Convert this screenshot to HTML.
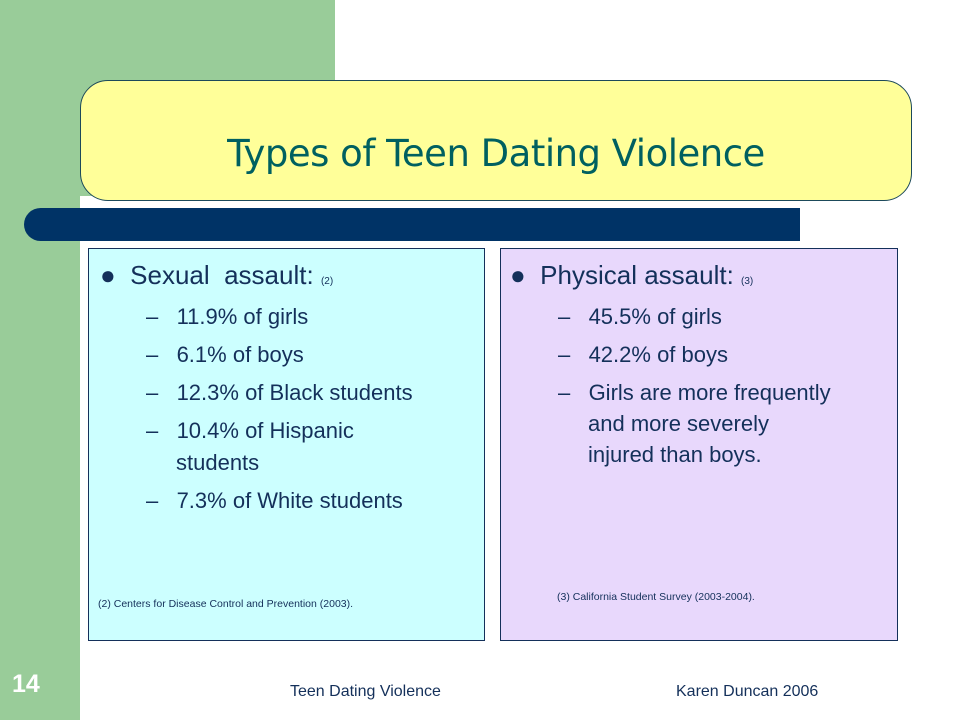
<!DOCTYPE html>
<html><head><meta charset="utf-8"><style>
body{margin:0;width:960px;height:720px;position:relative;background:#fff;overflow:hidden;font-family:"Liberation Sans",sans-serif;color:#14305a}
.a{position:absolute;white-space:nowrap}
.t{position:absolute;font-size:22px}
.d{position:absolute;font-size:14px}
.s{font-size:10px}
</style></head><body>
<div class="a" style="left:0;top:0;width:80px;height:720px;background:#99cc99"></div>
<div class="a" style="left:0;top:0;width:335px;height:196px;background:#99cc99"></div>
<div class="a" style="left:80px;top:80px;width:830px;height:119px;background:#ffff99;border:1.5px solid #1d4a5a;border-radius:28px"></div>
<div class="a" style="left:80px;top:132px;width:832px;text-align:center;font-family:'DejaVu Sans',sans-serif;font-size:37px;color:#006060;letter-spacing:-0.5px">Types of Teen Dating Violence</div>
<div class="a" style="left:24px;top:208px;width:776px;height:33px;background:#003366;border-radius:17px 0 0 17px"></div>
<div class="a" style="left:88px;top:248px;width:395px;height:391px;background:#ccffff;border:1px solid #14305a"></div>
<div class="a" style="left:500px;top:248px;width:396px;height:391px;background:#e8d8fc;border:1px solid #14305a"></div>
<div class="a" style="left:100px;top:260px;font-size:26px">● &nbsp;Sexual&nbsp; assault: <span class="s">(2)</span></div>
<div class="t" style="left:146px;top:304px">–&nbsp;&nbsp; 11.9% of girls</div>
<div class="t" style="left:146px;top:342px">–&nbsp;&nbsp; 6.1% of boys</div>
<div class="t" style="left:146px;top:380px">–&nbsp;&nbsp; 12.3% of Black students</div>
<div class="t" style="left:146px;top:418px">–&nbsp;&nbsp; 10.4% of Hispanic</div>
<div class="t" style="left:176px;top:450px">students</div>
<div class="t" style="left:146px;top:488px">–&nbsp;&nbsp; 7.3% of White students</div>
<div class="a" style="left:98px;top:598px;font-size:10.5px">(2) Centers for Disease Control and Prevention (2003).</div>
<div class="a" style="left:510px;top:260px;font-size:26px">● &nbsp;Physical assault: <span class="s">(3)</span></div>
<div class="t" style="left:558px;top:304px">–&nbsp;&nbsp; 45.5% of girls</div>
<div class="t" style="left:558px;top:342px">–&nbsp;&nbsp; 42.2% of boys</div>
<div class="t" style="left:558px;top:380px">–&nbsp;&nbsp; Girls are more frequently</div>
<div class="t" style="left:588px;top:411px">and more severely</div>
<div class="t" style="left:588px;top:442px">injured than boys.</div>
<div class="a" style="left:557px;top:591px;font-size:10.5px">(3) California Student Survey (2003-2004).</div>
<div class="a" style="left:12px;top:670px;font-size:25px;font-weight:bold;color:#fff">14</div>
<div class="a" style="left:290px;top:683px;font-size:16px">Teen Dating Violence</div>
<div class="a" style="left:676px;top:683px;font-size:16px">Karen Duncan 2006</div>
</body></html>
